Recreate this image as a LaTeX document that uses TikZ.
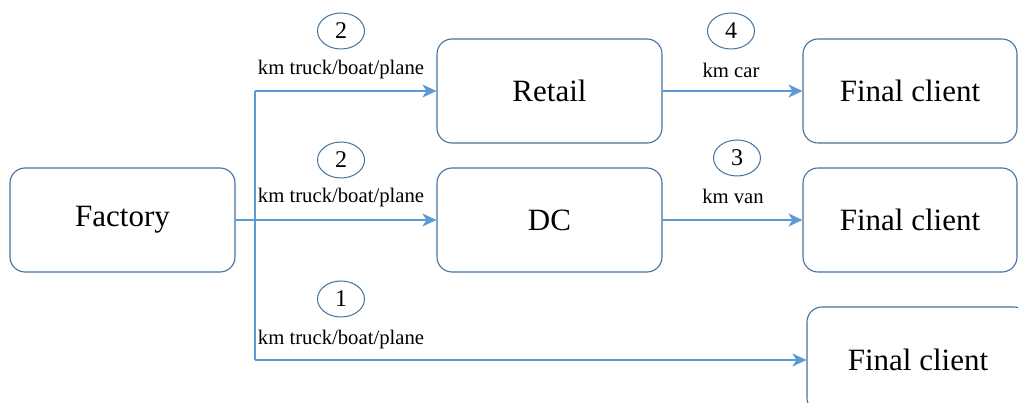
\documentclass[tikz,border=0pt]{standalone}
\usepackage{fontspec}
\setmainfont{Liberation Serif}
\usetikzlibrary{shapes.geometric,arrows.meta}
\definecolor{boxblue}{HTML}{41719C}
\definecolor{linkblue}{HTML}{5B9BD5}
\begin{document}
\begin{tikzpicture}[x=1pt,y=-1pt,
  stage/.style={draw=boxblue,line width=1.1pt,rounded corners=15pt,minimum width=225pt,minimum height=104pt,inner sep=0pt,font=\fontsize{31}{34}\selectfont},
  client/.style={stage,minimum width=214pt},
  num/.style={draw=boxblue,line width=1pt,ellipse,minimum width=47pt,minimum height=36pt,inner sep=0pt,font=\fontsize{24}{26}\selectfont},
  lbl/.style={font=\fontsize{20.7}{23}\selectfont,inner sep=0pt},
  link/.style={draw=linkblue,line width=2.2pt},
  arr/.style={link,-{Stealth[length=14pt,width=13pt,inset=4pt]}}]
\useasboundingbox (0,0) rectangle (1018,403);
\node[stage] (factory) at (122.5,220) {Factory};
\node[stage] (retail) at (549.5,91) {Retail};
\node[stage] (dc) at (549.5,220) {DC};
\node[client] (fc1) at (910,91) {Final client};
\node[client] (fc2) at (910,220) {Final client};
\node[stage,minimum width=222pt,minimum height=106pt] (fc3) at (918,360) {Final client};
\coordinate (jt) at (255,91);
\coordinate (jb) at (255,360);
\draw[link] (jt) -- (jb);
\draw[arr] (jt) -- (retail.west);
\draw[arr] (factory.east) -- (dc.west);
\draw[arr] (jb) -- (fc3.west);
\draw[arr] (retail.east) -- (fc1.west);
\draw[arr] (dc.east) -- (fc2.west);
\node[num] (n1) at (341,31) {2};
\node[lbl] (l1) at (341,70) {km truck/boat/plane};
\node[num] (n2) at (341,160) {2};
\node[lbl] (l2) at (341,198) {km truck/boat/plane};
\node[num] (n3) at (341,299) {1};
\node[lbl] (l3) at (341,340) {km truck/boat/plane};
\node[num] (n4) at (731,31) {4};
\node[lbl] (l4) at (731,70) {km car};
\node[num] (n5) at (737,158) {3};
\node[lbl] (l5) at (733,196) {km van};
\end{tikzpicture}
\end{document}
